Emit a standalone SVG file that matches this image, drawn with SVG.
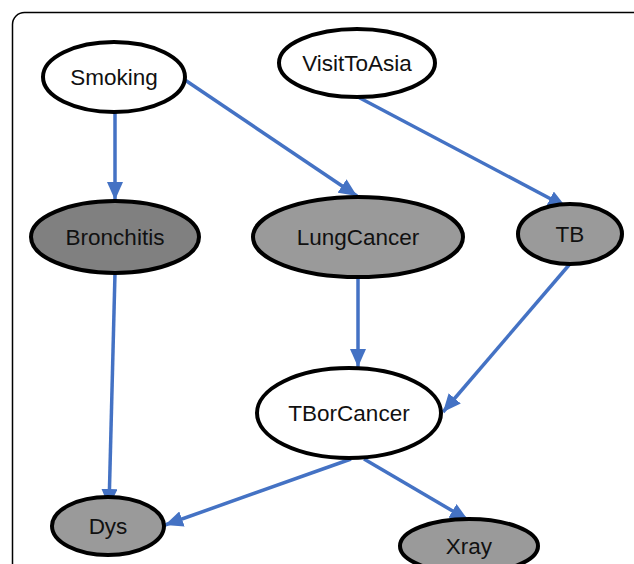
<svg xmlns="http://www.w3.org/2000/svg" width="634" height="564" viewBox="0 0 634 564">
<style>
.n{stroke:#000;stroke-width:4}
.w{fill:#fff}
.g{fill:#9a9a9a}
.d{fill:#808080}
.t{font-family:"Liberation Sans",Arial,sans-serif;font-size:22.5px;fill:#111;text-anchor:middle;dominant-baseline:central}
.e{stroke:#4472C4;stroke-width:3.5;fill:none;marker-end:url(#ah)}
</style>
<defs>
<marker id="ah" markerUnits="userSpaceOnUse" markerWidth="18" markerHeight="16" refX="18" refY="8" orient="auto">
<path d="M0,0 L18,8 L0,16 Z" fill="#4472C4"/>
</marker>
</defs>
<rect x="12.5" y="12.5" width="640" height="580" rx="12" fill="#fff" stroke="#000" stroke-width="1.5"/>
<g id="edges">
<line class="e" x1="115" y1="113" x2="115" y2="200"/>
<line class="e" x1="185" y1="80" x2="357" y2="196"/>
<line class="e" x1="358" y1="97" x2="566" y2="207"/>
<line class="e" x1="115" y1="273" x2="109" y2="507"/>
<line class="e" x1="358" y1="277" x2="358" y2="367"/>
<line class="e" x1="569" y1="265" x2="443" y2="412"/>
<line class="e" x1="351" y1="459" x2="165" y2="525"/>
<line class="e" x1="364" y1="459" x2="468" y2="520"/>
</g>
<g id="Smoking"><ellipse class="n w" cx="114" cy="77" rx="71" ry="35"/><text class="t" x="114" y="77">Smoking</text></g>
<g id="VisitToAsia"><ellipse class="n w" cx="357" cy="63" rx="78" ry="34"/><text class="t" x="357" y="63">VisitToAsia</text></g>
<g id="Bronchitis"><ellipse class="n d" cx="115" cy="237" rx="84" ry="36"/><text class="t" x="115" y="237">Bronchitis</text></g>
<g id="LungCancer"><ellipse class="n g" cx="358" cy="237" rx="105" ry="40"/><text class="t" x="358" y="237">LungCancer</text></g>
<g id="TB"><ellipse class="n g" cx="570" cy="234" rx="52" ry="30"/><text class="t" x="570" y="234">TB</text></g>
<g id="TBorCancer"><ellipse class="n w" cx="349" cy="413" rx="92" ry="45"/><text class="t" x="349" y="413">TBorCancer</text></g>
<g id="Dys"><ellipse class="n g" cx="108" cy="526" rx="56" ry="29"/><text class="t" x="108" y="526">Dys</text></g>
<g id="Xray"><ellipse class="n g" cx="469" cy="546" rx="69" ry="27"/><text class="t" x="469" y="546">Xray</text></g>
</svg>
